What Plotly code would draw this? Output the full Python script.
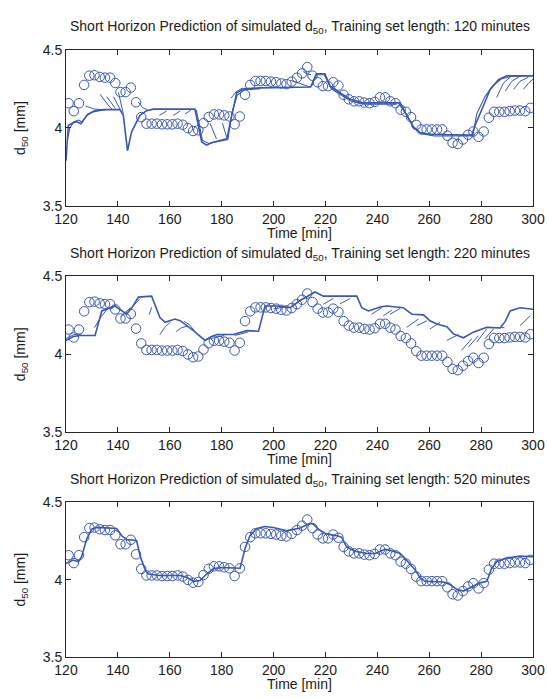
import plotly.graph_objects as go

# ---- simulated d50 (observations), one sample every 2 minutes ----
obs_time = [121, 123, 125, 127, 129, 131, 133, 135, 137, 139,
            141, 143, 145, 147, 149, 151, 153, 155, 157, 159,
            161, 163, 165, 167, 169, 171, 173, 175, 177, 179,
            181, 183, 185, 187, 189, 191, 193, 195, 197, 199,
            201, 203, 205, 207, 209, 211, 213, 215, 217, 219,
            221, 223, 225, 227, 229, 231, 233, 235, 237, 239,
            241, 243, 245, 247, 249, 251, 253, 255, 257, 259,
            261, 263, 265, 267, 269, 271, 273, 275, 277, 279,
            281, 283, 285, 287, 289, 291, 293, 295, 297, 299]
obs_d50 = [4.158, 4.107, 4.158, 4.275, 4.334, 4.337, 4.326, 4.321, 4.321, 4.287,
           4.229, 4.229, 4.258, 4.164, 4.069, 4.027, 4.027, 4.027, 4.023, 4.023,
           4.023, 4.027, 4.020, 3.998, 3.980, 3.985, 4.030, 4.070, 4.086, 4.086,
           4.080, 4.073, 4.023, 4.073, 4.212, 4.275, 4.300, 4.300, 4.300, 4.296,
           4.292, 4.284, 4.280, 4.296, 4.321, 4.349, 4.389, 4.334, 4.292, 4.267,
           4.267, 4.292, 4.271, 4.212, 4.183, 4.170, 4.170, 4.162, 4.158, 4.166,
           4.195, 4.195, 4.170, 4.158, 4.116, 4.103, 4.069, 4.019, 3.990, 3.990,
           3.990, 3.990, 3.990, 3.950, 3.905, 3.897, 3.926, 3.956, 3.977, 3.943,
           3.977, 4.065, 4.103, 4.103, 4.103, 4.107, 4.111, 4.111, 4.107, 4.128]

# ---- predictions, training set 120 min ----
p120_main_t = [120, 120.9, 122.8, 124, 125.7, 128, 130.5, 134.4, 140.8, 142.1,
               143.7, 145.3, 148.5, 151.1, 153.7, 169.7, 172.3, 174.2, 176, 182,
               183.9, 185.8, 188.4, 194.8, 214.3, 216.6, 219.8, 221.8, 225.6, 229.5,
               234.6, 248.8, 250.7, 253.9, 256.5, 260.3, 276.4, 277.7, 280.9, 283.5,
               286.7, 289.9, 300]
p120_main_v = [3.79, 4.017, 4.033, 4.04, 4.027, 4.08, 4.104, 4.117, 4.117, 4.08,
               3.854, 3.975, 4.08, 4.11, 4.12, 4.12, 3.91, 3.89, 3.905, 3.93,
               4.08, 4.225, 4.25, 4.256, 4.262, 4.346, 4.346, 4.267, 4.225, 4.183,
               4.16, 4.16, 4.10, 4.006, 3.97, 3.958, 3.954, 4.017, 4.142, 4.246,
               4.308, 4.333, 4.333]
p120_strand_t = [120.6, 121.5, 123, 125, 126.2, 128.5, 131, 135,
                 None, 170.2, 172.6, 175, 182.4, 184, 186, 189, 195,
                 None, 214.8, 216.2, 219.5, 222.3, 226, 230, 235, 247.5,
                 None, 248.3, 251, 254, 257, 262, 276.8, 278.3, 281.5, 284.5, 288, 292, 300]
p120_strand_v = [3.93, 4.0, 4.04, 4.05, 4.035, 4.09, 4.11, 4.115,
                 None, 4.115, 3.92, 3.90, 3.925, 4.10, 4.21, 4.245, 4.25,
                 None, 4.27, 4.34, 4.34, 4.25, 4.21, 4.17, 4.152, 4.152,
                 None, 4.155, 4.09, 4.0, 3.962, 3.948, 3.948, 4.09, 4.20, 4.27, 4.315, 4.33, 4.335]
p120_whisk_t = [127.5, 131, 134, None,
                133.1, 135, 137, 138, None,
                135.7, 137.5, 139, None,
                138.3, 139.5, 140.8, None,
                140.2, 141, 142.1, None,
                147.9, 149.5, 151.5, None,
                156, 158.8, None,
                161.4, 164, None,
                165.9, 168.1, None,
                175.5, 177, 178, None,
                180.3, 181.2, 182, None,
                183.6, 185.5, 188, None,
                206.4, 210, 214, None,
                211.5, 213, 214.5, None,
                286, 288.6, 291.2, None,
                289.3, 291.8, 295, None,
                292.5, 295, 298.3, None,
                296.3, 298.3, 300]
p120_whisk_v = [4.14, 4.12, 4.117, None,
                4.215, 4.17, 4.13, 4.118, None,
                4.20, 4.16, 4.125, None,
                4.20, 4.16, 4.12, None,
                4.228, 4.17, 4.09, None,
                4.165, 4.13, 4.115, None,
                4.08, 4.108, None,
                4.08, 4.108, None,
                4.09, 4.112, None,
                4.03, 3.97, 3.93, None,
                4.03, 3.98, 3.935, None,
                4.19, 4.23, 4.255, None,
                4.305, 4.285, 4.262, None,
                4.36, 4.345, 4.34, None,
                4.194, 4.287, 4.325, None,
                4.235, 4.298, 4.33, None,
                4.246, 4.298, 4.325, None,
                4.246, 4.287, 4.312]

# ---- predictions, training set 220 min ----
p220_main_t = [120, 122.8, 125.4, 131.2, 133.8, 137, 138.9, 143.4, 145.5, 147.9,
               153, 156.2, 158.2, 162, 164, 169.1, 173.6, 176.2, 178.1, 184.5,
               189.7, 194.2, 196.7, 201.2, 206.4, 210.2, 214.1, 216, 219.2, 232.1,
               234, 236.6, 241.1, 243.6, 250, 253.3, 257.8, 260.3, 262.9, 266.8,
               269.3, 273.2, 277, 282.2, 287.3, 289.3, 291.2, 295, 300]
p220_main_v = [4.088, 4.113, 4.12, 4.12, 4.277, 4.30, 4.309, 4.256, 4.30, 4.366,
               4.372, 4.235, 4.204, 4.225, 4.215, 4.151, 4.088, 4.113, 4.126, 4.126,
               4.151, 4.147, 4.309, 4.309, 4.298, 4.344, 4.382, 4.399, 4.372, 4.372,
               4.298, 4.277, 4.303, 4.309, 4.298, 4.256, 4.252, 4.214, 4.193, 4.176,
               4.13, 4.105, 4.141, 4.172, 4.168, 4.21, 4.277, 4.298, 4.288]
p220_whisk_t = [120, 123, 126, None,
                131, 133.5, 136, None,
                141, 143, 145, None,
                146, 148.5, None,
                152.1, 153, None,
                156.2, 158, 160.1, None,
                162.5, 164.5, 167, None,
                165.5, 167.5, 169.5, None,
                173.6, 176, None,
                176, 181, None,
                185, 190, None,
                200, 205, None,
                219.2, 223, None,
                225.6, 229.5, None,
                237.8, 241.7, None,
                242.3, 245.6, None,
                244.9, 248.8, None,
                251.3, 255.8, None,
                255.2, 259.1, None,
                260.3, 264.2, None,
                266.8, 271.3, None,
                272.5, 276.4, None,
                275.1, 279, None,
                278.3, 282.2, None,
                281.5, 284.8, None,
                286, 289, None,
                295, 298.9]
p220_whisk_v = [4.10, 4.125, 4.13, None,
                4.17, 4.24, 4.29, None,
                4.24, 4.27, 4.30, None,
                4.31, 4.357, None,
                4.254, 4.30, None,
                4.125, 4.17, 4.205, None,
                4.145, 4.17, 4.18, None,
                4.21, 4.19, 4.15, None,
                4.09, 4.115, None,
                4.10, 4.12, None,
                4.12, 4.14, None,
                4.29, 4.305, None,
                4.32, 4.357, None,
                4.323, 4.357, None,
                4.256, 4.298, None,
                4.246, 4.282, None,
                4.256, 4.294, None,
                4.172, 4.225, None,
                4.183, 4.214, None,
                4.162, 4.204, None,
                4.088, 4.126, None,
                4.025, 4.099, None,
                4.046, 4.118, None,
                4.078, 4.162, None,
                4.099, 4.162, None,
                4.17, 4.17, None,
                4.183, 4.246]

# ---- predictions, training set 520 min ----
p520_main_t = [120, 122.8, 124.8, 126, 128, 129.9, 131.8, 139.5, 141.5, 143.4,
               147.2, 148.5, 150.5, 151.7, 156.2, 164, 166.5, 169.1, 171.7, 174.2,
               176.8, 179.4, 187.1, 189, 190.9, 193.5, 196.7, 199.9, 205, 210.2,
               214.1, 215.3, 217.3, 220.5, 224.3, 226.3, 228.2, 231.4, 235.9, 239.1,
               243, 246.2, 248.8, 250.7, 254.6, 256.5, 258.4, 265.5, 268, 270.6,
               273.2, 276.4, 279.6, 282.2, 284.1, 286, 289.9, 295, 300]
p520_main_v = [4.105, 4.127, 4.116, 4.148, 4.264, 4.327, 4.338, 4.331, 4.284, 4.26,
               4.253, 4.158, 4.063, 4.036, 4.027, 4.027, 4.015, 3.989, 3.994, 4.036,
               4.07, 4.078, 4.074, 4.2, 4.285, 4.331, 4.344, 4.338, 4.316, 4.334,
               4.365, 4.359, 4.327, 4.295, 4.285, 4.274, 4.211, 4.184, 4.169, 4.169,
               4.196, 4.184, 4.169, 4.137, 4.063, 4.011, 3.989, 3.985, 3.968, 3.937,
               3.926, 3.951, 3.979, 3.989, 4.074, 4.116, 4.141, 4.152, 4.148]

titles = ["Short Horizon Prediction of simulated d<sub>50</sub>, Training set length: 120 minutes",
          "Short Horizon Prediction of simulated d<sub>50</sub>, Training set length: 220 minutes",
          "Short Horizon Prediction of simulated d<sub>50</sub>, Training set length: 520 minutes"]
x_ticks = [120, 140, 160, 180, 200, 220, 240, 260, 280, 300]
y_ticks = [3.5, 4.0, 4.5]
y_tick_text = ["3.5", "4", "4.5"]

BLUE = "#3a58b0"
AXIS = "#262626"
TEXT = "#1a1a1a"
FONT = "Liberation Sans, Arial, sans-serif"
FS = 14
W, H = 547, 699
ML, MR = 66, 14

# vertical placement of the three panels (pixel rows of top/bottom frame)
panel_px = [(42.7, 202.7), (274.5, 434.0), (506.0, 664.0)]

fig = go.Figure()

panels = [
    [(p120_main_t, p120_main_v, 1.6), (p120_strand_t, p120_strand_v, 1.1), (p120_whisk_t, p120_whisk_v, 1.0)],
    [(p220_main_t, p220_main_v, 1.6), (p220_whisk_t, p220_whisk_v, 1.0)],
    [(p520_main_t, p520_main_v, 1.6)],
]

for i, lines in enumerate(panels):
    xa = "x" if i == 0 else f"x{i + 1}"
    ya = "y" if i == 0 else f"y{i + 1}"
    for t, v, w in lines:
        fig.add_trace(go.Scatter(x=t, y=v, mode="lines", xaxis=xa, yaxis=ya,
                                 line=dict(color=BLUE, width=w), connectgaps=False,
                                 showlegend=False, hoverinfo="skip"))
    fig.add_trace(go.Scatter(x=obs_time, y=obs_d50, mode="markers", xaxis=xa, yaxis=ya,
                             marker=dict(symbol="circle-open", size=9.5, color=BLUE,
                                         line=dict(width=1, color=BLUE)),
                             showlegend=False))

layout = dict(width=W, height=H, margin=dict(l=ML, r=MR, t=0, b=0),
              paper_bgcolor="white", plot_bgcolor="white",
              font=dict(family=FONT, size=FS, color=TEXT))

annotations = []
for i, (top, bot) in enumerate(panel_px):
    sfx = "" if i == 0 else str(i + 1)
    dom = [(H - bot) / H, (H - top) / H]
    common = dict(showline=True, linecolor=AXIS, linewidth=1, mirror="ticks",
                  ticks="inside", ticklen=5, tickcolor=AXIS, showgrid=False,
                  zeroline=False, tickfont=dict(family=FONT, size=FS, color=TEXT))
    layout["xaxis" + sfx] = dict(domain=[0, 1], range=[120, 300], tickvals=x_ticks,
                                 anchor="y" + sfx, **common)
    layout["yaxis" + sfx] = dict(domain=dom, range=[3.5, 4.5], tickvals=y_ticks,
                                 ticktext=y_tick_text, anchor="x" + sfx, **common)
    annotations.append(dict(text=titles[i], xref="paper", yref="paper",
                            x=0.5, y=(H - (top - 23)) / H, xanchor="center", yanchor="middle",
                            showarrow=False, font=dict(family=FONT, size=FS, color=TEXT)))
    annotations.append(dict(text="Time [min]", xref="paper", yref="paper",
                            x=0.5, y=(H - (bot + 28)) / H, xanchor="center", yanchor="middle",
                            showarrow=False, font=dict(family=FONT, size=FS, color=TEXT)))
    annotations.append(dict(text="d<sub>50</sub> [mm]", xref="paper", yref="paper",
                            x=(21 - ML) / (W - ML - MR), y=(H - (top + bot) / 2) / H,
                            xanchor="center", yanchor="middle", textangle=-90,
                            showarrow=False, font=dict(family=FONT, size=FS, color=TEXT)))
layout["annotations"] = annotations

fig.update_layout(**layout)
fig.write_html("out.html")
